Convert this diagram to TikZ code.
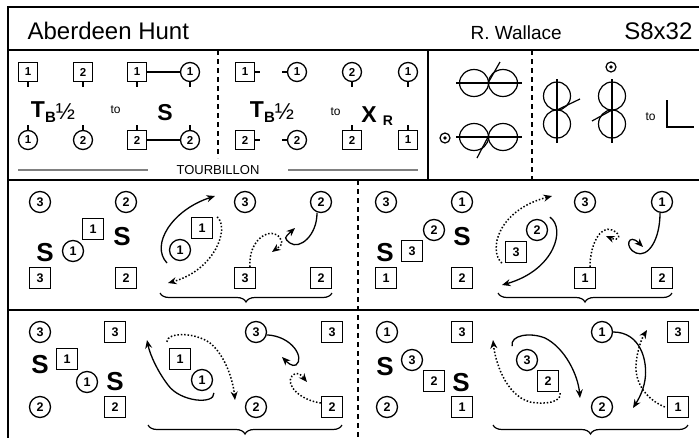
\documentclass[tikz,border=0pt]{standalone}
\usepackage{fontspec}
\setmainfont{Liberation Sans}
\usetikzlibrary{arrows.meta,decorations.pathreplacing}

\begin{document}
\begin{tikzpicture}[
  x=1pt, y=-1pt, % pixel grid, y runs downwards
  >={Stealth[length=8.5pt,width=7pt]}, % arrow head style
  line width=1.2pt
]

\tikzstyle{man}=[draw=black, line width=1.3pt, minimum size=19pt, inner sep=0pt,
  font=\fontsize{11.5}{11.5}\selectfont\bfseries]
\tikzstyle{woman}=[man, circle]
\tikzstyle{bigman}=[man, minimum size=21pt, font=\fontsize{12.5}{12.5}\selectfont\bfseries]
\tikzstyle{bigwoman}=[bigman, circle]
\tikzstyle{sett}=[inner sep=0pt, font=\fontsize{26}{26}\selectfont\bfseries]
\tikzstyle{tolabel}=[inner sep=0pt, anchor=base west, font=\fontsize{12}{12}\selectfont]
\tikzstyle{boxline}=[line width=1.5pt]
\tikzstyle{divider}=[line width=1.3pt, dash pattern=on 5pt off 4pt]
\tikzstyle{solidmove}=[->, line width=1.3pt]
\tikzstyle{dotmove}=[->, line width=1.5pt, dash pattern=on 1.5pt off 1.9pt]
\tikzstyle{grouping}=[decorate, decoration={brace, mirror, amplitude=9pt}, line width=1.2pt]

\useasboundingbox (0,0) rectangle (699,437);

% frame and panels
\draw[boxline] (700,7) -- (8,7) -- (8,440);
\draw[boxline] (8,50) -- (700,50);
\draw[boxline] (8,180) -- (700,180);
\draw[boxline] (8,310) -- (700,310);
\draw[boxline] (428,50) -- (428,180);
\draw[divider] (218,50) -- (218,158);
\draw[divider] (532,50) -- (532,180);
\draw[divider] (358,180) -- (358,440);

% heading
\node[inner sep=0pt, anchor=base west, font=\fontsize{24}{24}\selectfont] (title) at (27,39) {Aberdeen Hunt};
\node[inner sep=0pt, anchor=base west, font=\fontsize{19}{19}\selectfont] (author) at (470,39) {R. Wallace};
\node[inner sep=0pt, anchor=base east, font=\fontsize{24}{24}\selectfont] (form) at (693,39) {S8x32};

% tourbillon, first half
\node[man] (a1m) at (28,72) {1};
\node[man] (a2m) at (83,72) {2};
\node[man] (a1mx) at (137,72) {1};
\node[woman] (a1wx) at (190,72) {1};
\node[woman] (a1w) at (28,140) {1};
\node[woman] (a2w) at (83,140) {2};
\node[man] (a2mx) at (137,140) {2};
\node[woman] (a2wx) at (190,140) {2};
\foreach \d in {a1m,a2m,a1mx,a1wx} \draw (\d.south) -- ++(0,5);
\foreach \d in {a1w,a2w,a2mx,a2wx} \draw (\d.north) -- ++(0,-5);
\draw (a1mx) -- (a1wx);
\draw (a2mx) -- (a2wx);
\node[inner sep=0pt, anchor=base] (ta) at (53,117)
  {\fontsize{23}{23}\selectfont\bfseries T\raisebox{-5pt}{\fontsize{15}{15}\selectfont B}\mdseries\raisebox{-2pt}{\fontsize{23}{23}\selectfont ½}};
\node[tolabel] (toa) at (110,113) {to};
\node[sett, font=\fontsize{23}{23}\selectfont\bfseries] (sa) at (165,113) {S};

% tourbillon, second half
\node[man] (b1m) at (245,72) {1};
\node[woman] (b1w) at (297,72) {1};
\node[woman] (bb2w) at (352,72) {2};
\node[woman] (bb1w) at (408,72) {1};
\node[man] (b2m) at (245,140) {2};
\node[woman] (b2w) at (297,140) {2};
\node[man] (bb2m) at (352,140) {2};
\node[man] (bb1m) at (408,140) {1};
\draw (b1m.east) -- ++(5,0);
\draw (b2m.east) -- ++(5,0);
\draw (b1w.west) -- ++(-5,0);
\draw (b2w.west) -- ++(-5,0);
\draw (bb2w.south) -- ++(0,5);
\draw (bb1w.south) -- ++(0,5);
\draw (bb2m.north) -- ++(0,-5);
\draw (bb1m.north) -- ++(0,-5);
\node[inner sep=0pt, anchor=base] (tb) at (272,117)
  {\fontsize{23}{23}\selectfont\bfseries T\raisebox{-5pt}{\fontsize{15}{15}\selectfont B}\mdseries\raisebox{-2pt}{\fontsize{23}{23}\selectfont ½}};
\node[tolabel] (tob) at (330,115) {to};
\node[sett, font=\fontsize{23}{23}\selectfont\bfseries] (xb) at (369,115) {X};
\node[sett, font=\fontsize{14}{14}\selectfont\bfseries] (rb) at (388,121) {R};

\node[inner sep=0pt, font=\fontsize{13}{13}\selectfont] (tourb) at (218,170) {TOURBILLON};
\draw[gray, line width=1.2pt] (18,170) -- (148,170);
\draw[gray, line width=1.2pt] (288,170) -- (418,170);

% reels of three across
\draw (474,83) ellipse [x radius=14.5pt, y radius=13.5pt];
\draw (503,83) ellipse [x radius=14.5pt, y radius=13.5pt];
\draw (456,83) -- (522,83);
\draw (488,83) -- (500,62);
\draw (474,137) ellipse [x radius=14.5pt, y radius=13.5pt];
\draw (503,137) ellipse [x radius=14.5pt, y radius=13.5pt];
\draw (456,137) -- (522,137);
\draw (488,137) -- (477,158);
\draw (445,138) circle (5pt);
\fill (445,138) circle (1.8pt);

% reels of three on the sides
\draw (557,96) ellipse [x radius=13.5pt, y radius=14pt];
\draw (557,124) ellipse [x radius=13.5pt, y radius=14pt];
\draw (557,79) -- (557,143);
\draw (557,110) -- (580,99);
\draw (612,96) ellipse [x radius=13.5pt, y radius=14pt];
\draw (612,124) ellipse [x radius=13.5pt, y radius=14pt];
\draw (612,79) -- (612,143);
\draw (612,110) -- (592,121);
\draw (611,67) circle (5pt);
\fill (611,67) circle (1.8pt);
\node[tolabel] (toc) at (645,120) {to};
\draw (667,100) -- (667,127) -- (694,127);

% row 2, left: setting
\node[bigwoman] (c3w) at (40,202) {3};
\node[bigwoman] (c2w) at (126,202) {2};
\node[bigman] (c1m) at (93,229) {1};
\node[bigwoman] (c1w) at (73,251) {1};
\node[bigman] (c3m) at (40,278) {3};
\node[bigman] (c2m) at (126,278) {2};
\node[sett] (cs1) at (45,253) {S};
\node[sett] (cs2) at (122,237) {S};

\node[bigwoman] (cc3w) at (245,202) {3};
\node[bigwoman] (cc2w) at (321,202) {2};
\node[bigman] (cc1m) at (202,228) {1};
\node[bigwoman] (cc1w) at (180,250) {1};
\node[bigman] (cc3m) at (245,278) {3};
\node[bigman] (cc2m) at (321,278) {2};
\coordinate (ct1) at (215,196);
\coordinate (ct2) at (168,283);
\coordinate (ct3) at (272,252);
\coordinate (ct4) at (295,228);
\draw[solidmove] ([shift={(-13,13)}]cc1w.center) .. controls (150,245) and (172,210) .. (ct1);
\draw[dotmove] ([shift={(4,0)}]cc1m.north east) .. controls (230,228) and (215,270) .. (ct2);
\draw[dotmove] ([shift={(5,0)}]cc3m.north) .. controls (248,238) and (272,226) .. (280,238) .. controls (283,244) .. (ct3);
\draw[solidmove] ([shift={(-4,0)}]cc2w.south) .. controls (317,235) and (300,250) .. (290,243) .. controls (284,238) .. (ct4);
\draw[grouping] (160,293) -- (332,293);

% row 2, right
\node[bigwoman] (d3w) at (386,202) {3};
\node[bigwoman] (d1w) at (462,202) {1};
\node[bigwoman] (d2w) at (434,230) {2};
\node[bigman] (d3m) at (412,251) {3};
\node[bigman] (d1m) at (386,278) {1};
\node[bigman] (d2m) at (462,278) {2};
\node[sett] (ds1) at (385,253) {S};
\node[sett] (ds2) at (462,237) {S};

\node[bigwoman] (dd3w) at (585,202) {3};
\node[bigwoman] (dd1w) at (662,202) {1};
\node[bigwoman] (dd2w) at (537,230) {2};
\node[bigman] (dd3m) at (516,252) {3};
\node[bigman] (dd1m) at (585,278) {1};
\node[bigman] (dd2m) at (662,278) {2};
\coordinate (dt1) at (552,196);
\coordinate (dt2) at (502,285);
\coordinate (dt3) at (606,236);
\coordinate (dt4) at (643,247);
\draw[dotmove] ([shift={(-3,0)}]dd3m.south west) .. controls (488,250) and (498,210) .. (dt1);
\draw[solidmove] ([shift={(5,-5)}]dd2w.north east) .. controls (566,228) and (555,270) .. (dt2);
\draw[dotmove] ([shift={(5,0)}]dd1m.north) .. controls (590,245) and (600,225) .. (612,230) .. controls (622,234) and (620,242) .. (dt3);
\draw[solidmove] ([shift={(-2,0)}]dd1w.south) .. controls (660,240) and (648,258) .. (636,253) .. controls (624,248) and (628,232) .. (dt4);
\draw[grouping] (498,293) -- (672,293);

% row 3, left
\node[bigwoman] (e3w) at (40,332) {3};
\node[bigman] (e3m) at (115,332) {3};
\node[bigman] (e1m) at (67,359) {1};
\node[bigwoman] (e1w) at (87,382) {1};
\node[bigwoman] (e2w) at (40,407) {2};
\node[bigman] (e2m) at (115,407) {2};
\node[sett] (es1) at (40,365) {S};
\node[sett] (es2) at (115,382) {S};

\node[bigwoman] (ee3w) at (256,332) {3};
\node[bigman] (ee3m) at (332,332) {3};
\node[bigman] (ee1m) at (180,359) {1};
\node[bigwoman] (ee1w) at (202,380) {1};
\node[bigwoman] (ee2w) at (256,407) {2};
\node[bigman] (ee2m) at (332,407) {2};
\coordinate (et1) at (147,340);
\coordinate (et2) at (235,400);
\coordinate (et3) at (282,357);
\coordinate (et4) at (307,382);
\draw[solidmove] ([shift={(4,5)}]ee1w.south east) .. controls (215,405) and (180,402) .. (168,385) .. controls (158,372) and (150,355) .. (et1);
\draw[dotmove] ([shift={(-2,-6)}]ee1m.north west) .. controls (167,332) and (195,332) .. (210,343) .. controls (225,355) and (233,380) .. (et2);
\draw[solidmove] (ee3w.-15) .. controls (292,336) and (305,358) .. (296,365) .. controls (292,367) and (287,362) .. (et3);
\draw[dotmove] ([shift={(0,-4)}]ee2m.west) .. controls (300,400) and (285,385) .. (292,376) .. controls (298,370) and (302,376) .. (et4);
\draw[grouping] (148,425) -- (342,425);

% row 3, right
\node[bigwoman] (f1w) at (387,332) {1};
\node[bigman] (f3m) at (462,332) {3};
\node[bigwoman] (f3w) at (412,360) {3};
\node[bigman] (f2m) at (434,381) {2};
\node[bigwoman] (f2w) at (387,407) {2};
\node[bigman] (f1m) at (462,407) {1};
\node[sett] (fs1) at (385,367) {S};
\node[sett] (fs2) at (461,383) {S};

\node[bigwoman] (ff1w) at (602,332) {1};
\node[bigman] (ff3m) at (678,332) {3};
\node[bigwoman] (ff3w) at (527,360) {3};
\node[bigman] (ff2m) at (548,381) {2};
\node[bigwoman] (ff2w) at (602,407) {2};
\node[bigman] (ff1m) at (678,407) {1};
\coordinate (ft1) at (493,340);
\coordinate (ft2) at (580,398);
\coordinate (ft3) at (633,408);
\coordinate (ft4) at (647,330);
\draw[dotmove] ([shift={(1,1)}]ff2m.south east) .. controls (562,402) and (545,405) .. (530,402) .. controls (505,395) and (495,360) .. (ft1);
\draw[solidmove] ([shift={(-7,-6)}]ff3w.north west) .. controls (510,335) and (530,332) .. (545,338) .. controls (565,348) and (578,375) .. (ft2);
\draw[solidmove] (ff1w.east) .. controls (640,332) and (648,360) .. (645,380) .. controls (643,392) and (638,400) .. (ft3);
\draw[dotmove] ([shift={(-2,0)}]ff1m.west) .. controls (648,400) and (635,385) .. (636,365) .. controls (637,350) and (642,338) .. (ft4);
\draw[grouping] (493,425) -- (688,425);

\end{tikzpicture}
\end{document}
